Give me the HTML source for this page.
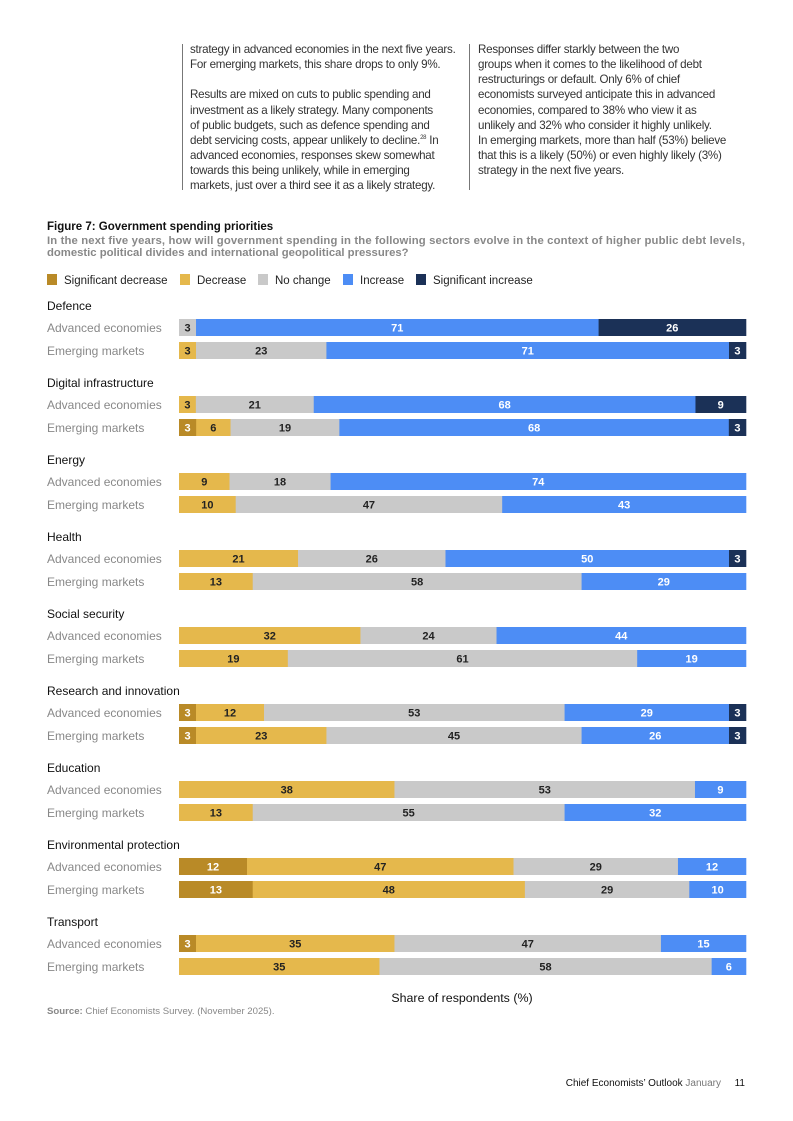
<!DOCTYPE html>
<html><head><meta charset="utf-8">
<style>
body{margin:0;width:793px;height:1121px;background:#fff;font-family:"Liberation Sans",sans-serif;position:relative;overflow:hidden}
.col{position:absolute;top:42px;font-size:11.6px;line-height:15.15px;color:#333;letter-spacing:-0.25px;white-space:nowrap}
.rule{position:absolute;top:44px;width:1px;background:#777}
</style></head><body>
<div class="rule" style="left:182px;height:146px"></div>
<div class="rule" style="left:469px;height:146px"></div>
<div class="col" style="left:190px;width:280px">strategy in advanced economies in the next five years.<br>For emerging markets, this share drops to only 9%.<br><br>Results are mixed on cuts to public spending and<br>investment as a likely strategy. Many components<br>of public budgets, such as defence spending and<br>debt servicing costs, appear unlikely to decline.<sup style="font-size:6px;line-height:0">28</sup> In<br>advanced economies, responses skew somewhat<br>towards this being unlikely, while in emerging<br>markets, just over a third see it as a likely strategy.</div>
<div class="col" style="left:478px;width:290px">Responses differ starkly between the two<br>groups when it comes to the likelihood of debt<br>restructurings or default. Only 6% of chief<br>economists surveyed anticipate this in advanced<br>economies, compared to 38% who view it as<br>unlikely and 32% who consider it highly unlikely.<br>In emerging markets, more than half (53%) believe<br>that this is a likely (50%) or even highly likely (3%)<br>strategy in the next five years.</div>

<svg id="chart" width="793" height="1121" style="position:absolute;left:0;top:0" font-family="Liberation Sans, sans-serif">
<text x="47" y="230" font-size="11.5" font-weight="bold" fill="#111">Figure 7: Government spending priorities</text>
<text x="47" y="244" font-size="11.3" font-weight="bold" fill="#888" textLength="698">In the next five years, how will government spending in the following sectors evolve in the context of higher public debt levels,</text>
<text x="47" y="256" font-size="11.3" font-weight="bold" fill="#888">domestic political divides and international geopolitical pressures?</text>
<g id="legend"></g>
<g id="bars"></g>
<text x="462" y="1002" font-size="12.4" text-anchor="middle" fill="#111">Share of respondents (%)</text>
<text x="47" y="1014" font-size="9.6" fill="#888"><tspan font-weight="bold">Source:</tspan> Chief Economists Survey. (November 2025).</text>
<text x="721" y="1086" font-size="10" text-anchor="end" fill="#111">Chief Economists’ Outlook <tspan fill="#777">January</tspan></text>
<text x="745" y="1086" font-size="10" text-anchor="end" fill="#111">11</text>
</svg>
<script>
const seriesNames=["Significant decrease","Decrease","No change","Increase","Significant increase"];
const categories=["Defence","Digital infrastructure","Energy","Health","Social security","Research and innovation","Education","Environmental protection","Transport"];
const groups=["Advanced economies","Emerging markets"];
const advanced=[[0,0,3,71,26],[0,3,21,68,9],[0,9,18,74,0],[0,21,26,50,3],[0,32,24,44,0],[3,12,53,29,3],[0,38,53,9,0],[12,47,29,12,0],[3,35,47,15,0]];
const emerging=[[0,3,23,71,3],[3,6,19,68,3],[0,10,47,43,0],[0,13,58,29,0],[0,19,61,19,0],[3,23,45,26,3],[0,13,55,32,0],[13,48,29,10,0],[0,35,58,6,0]];
const colors=["#b98a27","#e5b84c","#c9c9c9","#4d8df5","#1b3157"];
const textCol=["#fff","#222","#222","#fff","#fff"];
const NS="http://www.w3.org/2000/svg";
const X0=179,X1=746;
function mk(t,a,p){const e=document.createElementNS(NS,t);for(const k in a)e.setAttribute(k,a[k]);p.appendChild(e);return e;}
const leg=document.getElementById('legend');
const legX=[47,180,258,343,416];
seriesNames.forEach((n,i)=>{
  const g=mk('g',{},leg);
  
  
  mk('rect',{x:legX[i],y:274,width:10,height:11,fill:colors[i]},g);
  const t=mk('text',{x:legX[i]+17,y:284,'font-size':11.5,fill:'#222'},g);t.textContent=n;
});
const bars=document.getElementById('bars');
function xs(v,tot){return (X1-X0)*v/tot;}
categories.forEach((c,ci)=>{
  const y0=305+ci*77;
  const h=mk('text',{x:47,y:y0+5,'font-size':12,fill:'#111'},bars);
  
  
  h.textContent=c;
  [advanced[ci],emerging[ci]].forEach((vals,gi)=>{
    const by=y0+14+gi*23;
    const l=mk('text',{x:47,y:by+13,'font-size':12,fill:'#888'},bars);
    
    
    l.textContent=groups[gi];
    const tot=vals.reduce((a,b)=>a+b,0);
    let x=X0;
    vals.forEach((v,si)=>{
      if(!v)return;
      const w=xs(v,tot);
      const r=mk('rect',{x:x,y:by,width:w+0.3,height:17,fill:colors[si]},bars);
      
      
      const t=mk('text',{x:x+w/2,y:by+12.5,'font-size':11,'font-weight':'bold','text-anchor':'middle',fill:textCol[si]},bars);
      
      
      t.textContent=v;
      x+=w;
    });
  });
});
</script>
</body></html>
